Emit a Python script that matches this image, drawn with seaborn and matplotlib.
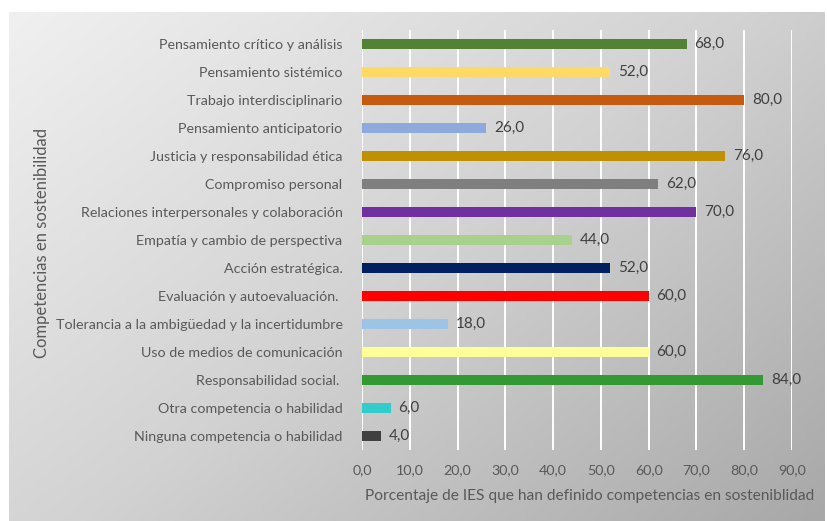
import numpy as np
import pandas as pd
import matplotlib
matplotlib.use("Agg")
import matplotlib.pyplot as plt
from matplotlib.colors import LinearSegmentedColormap
import seaborn as sns

# datos
competencias = [
    "Pensamiento crítico y análisis",
    "Pensamiento sistémico",
    "Trabajo interdisciplinario",
    "Pensamiento anticipatorio",
    "Justicia y responsabilidad ética",
    "Compromiso personal",
    "Relaciones interpersonales y colaboración",
    "Empatía y cambio de perspectiva",
    "Acción estratégica.",
    "Evaluación y autoevaluación. ",
    "Tolerancia a la ambigüedad y la incertidumbre",
    "Uso de medios de comunicación",
    "Responsabilidad social. ",
    "Otra competencia o habilidad",
    "Ninguna competencia o habilidad",
]
porcentajes = [68, 52, 80, 26, 76, 62, 70, 44, 52, 60, 18, 60, 84, 6, 4]
colores = [
    "#548235", "#FFD966", "#C55A11", "#8EA9DB", "#BF9000",
    "#7F7F7F", "#7030A0", "#A9D18E", "#002060", "#FF0000",
    "#9DC3E6", "#FFFF99", "#339933", "#33CCCC", "#404040",
]
ticks_x = [0, 10, 20, 30, 40, 50, 60, 70, 80, 90]

df = pd.DataFrame({"competencia": competencias, "porcentaje": porcentajes})

sns.set_style("white")
plt.rcParams["font.family"] = ["Lato", "DejaVu Sans"]

W, H = 827, 521
fig = plt.figure(figsize=(W / 100, H / 100), dpi=100)

# fondo degradado gris
bg = fig.add_axes([9 / W, 0, 816 / W, 509 / H], zorder=-5)
yy, xx = np.mgrid[0:1:200j, 0:1:300j]
grad = 0.55 * xx + 0.45 * yy
cmap = LinearSegmentedColormap.from_list("g", ["#f0f0f0", "#d2d2d2", "#a8a8a8"])
bg.imshow(grad, cmap=cmap, aspect="auto", extent=[0, 1, 0, 1], origin="upper")
bg.axis("off")

ax = fig.add_axes([362 / W, 1 - 450 / H, 430 / W, 420 / H])
ax.set_facecolor("none")

sns.barplot(data=df, y="competencia", x="porcentaje", hue="competencia",
            palette=colores, legend=False, width=0.36, orient="h", ax=ax,
            saturation=1, linewidth=0, edgecolor="none", zorder=3)

for i, v in enumerate(porcentajes):
    ax.text(v + 1.6, i, f"{v:.1f}".replace(".", ","), va="center", ha="left",
            fontsize=11, color="#404040", zorder=4)

ax.set_xlim(0, 90)
ax.set_ylim(14.5, -0.5)
ax.set_xticks(ticks_x)
ax.set_xticklabels([f"{t:.1f}".replace(".", ",") for t in ticks_x])
ax.grid(axis="x", color="white", linewidth=1.4, zorder=0)
ax.set_axisbelow(True)
for s in ax.spines.values():
    s.set_visible(False)
ax.tick_params(axis="y", length=0, labelsize=10.3, colors="#595959", pad=14)
ax.tick_params(axis="x", length=0, labelsize=10.3, colors="#595959", pad=10)
ax.set_xlabel("")
ax.set_ylabel("")

fig.text(365 / W, 1 - 496 / H,
         "Porcentaje de IES que han definido competencias en sosteniblidad",
         ha="left", va="center", fontsize=11.2, color="#595959")
fig.text(42 / W, 1 - 243 / H, "Competencias en sostenibilidad", rotation=90,
         ha="center", va="center", fontsize=12, color="#595959")

fig.savefig("out.png", dpi=100, facecolor="white")
